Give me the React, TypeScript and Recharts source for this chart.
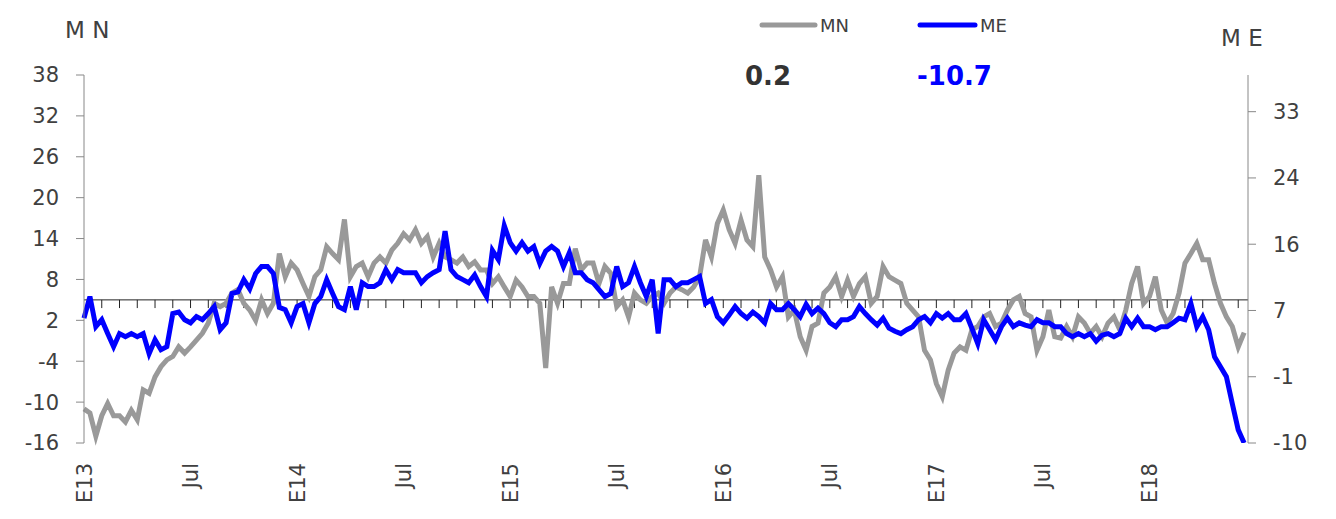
import { LineChart, Line, XAxis, YAxis, ReferenceLine } from "recharts";

// monthly step of 1/3 (roughly every 10 days), starting January 2013
const STEP = 1 / 3;

const mn2013 = [
  -11.0, -11.6, -15.0, -12.0, -10.2, -12.0, -12.0, -12.9, -11.2, -12.6, -8.2, -8.7,
  -6.3, -4.8, -3.8, -3.3, -1.9, -2.8, -1.9, -0.9, 0.1, 1.6, 4.5, 4.0,
  4.5, 6.0, 6.5, 4.5, 3.5, 2.0, 5.0, 3.0, 4.5, 11.8, 8.4, 10.4,
];
const mn2014 = [
  9.4, 7.4, 5.5, 8.4, 9.4, 12.8, 11.8, 10.9, 16.8, 8.4, 9.9, 10.4,
  8.4, 10.4, 11.3, 10.4, 12.3, 13.3, 14.7, 13.8, 15.3, 13.3, 14.3, 11.3,
  13.3, 11.3, 10.9, 10.4, 11.3, 9.9, 10.6, 9.4, 9.4, 7.4, 8.4, 6.9,
];
const mn2015 = [
  5.5, 7.9, 6.9, 5.5, 5.5, 4.5, -5.0, 6.9, 4.5, 7.4, 7.4, 12.5,
  9.4, 10.4, 10.4, 7.4, 9.9, 8.9, 4.0, 5.0, 2.5, 6.0, 5.0, 4.5,
  5.5, 6.0, 4.5, 6.0, 6.9, 6.5, 6.0, 6.9, 8.4, 13.8, 11.3, 16.2,
];
const mn2016 = [
  18.2, 15.3, 13.3, 16.7, 13.8, 12.8, 23.3, 11.3, 9.4, 6.9, 8.4, 2.5,
  3.5, -0.4, -2.4, 1.1, 1.6, 6.0, 6.9, 8.4, 5.5, 7.9, 5.5, 7.4,
  8.4, 4.5, 5.5, 9.9, 8.4, 7.9, 7.4, 4.5, 3.5, 2.5, -2.4, -3.8,
];
const mn2017 = [
  -7.3, -9.2, -5.3, -2.8, -1.9, -2.4, 0.6, 1.1, 2.5, 3.0, 1.1, 1.6,
  3.5, 5.0, 5.5, 3.0, 2.5, -2.4, -0.4, 3.5, -0.4, -0.6, 1.1, -0.4,
  2.5, 1.6, 0.1, 1.1, -0.4, 1.6, 2.5, 0.6, 3.5, 7.4, 9.9, 4.5,
];
const mn2018 = [
  5.5, 8.4, 3.5, 1.6, 3.0, 6.0, 10.4, 11.8, 13.3, 10.9, 10.9, 7.4,
  4.5, 2.5, 1.1, -1.9, 0.2,
];

const me2013 = [
  6.2, 9.0, 5.1, 6.0, 4.2, 2.5, 4.2, 3.8, 4.2, 3.8, 4.2, 1.6,
  3.4, 2.1, 2.5, 6.8, 7.0, 6.0, 5.6, 6.4, 6.0, 6.8, 7.7, 4.7,
  5.6, 9.4, 9.6, 11.2, 10.0, 12.0, 12.9, 12.9, 12.0, 7.6, 7.3, 5.6,
];
const me2014 = [
  7.7, 8.1, 5.6, 8.1, 9.0, 11.2, 9.4, 7.7, 7.3, 10.3, 7.3, 10.8,
  10.3, 10.3, 10.8, 12.5, 11.2, 12.5, 12.1, 12.1, 12.1, 10.8, 11.6, 12.1,
  12.5, 17.5, 12.5, 11.6, 11.2, 10.8, 11.8, 10.3, 9.0, 15.0, 13.8, 18.2,
];
const me2015 = [
  16.0, 14.9, 16.0, 14.9, 15.5, 13.3, 14.9, 15.5, 14.9, 12.9, 14.7, 12.1,
  12.1, 11.2, 10.8, 9.9, 9.0, 9.4, 12.9, 10.3, 10.8, 12.9, 10.8, 9.0,
  11.2, 4.2, 11.2, 11.2, 10.3, 10.8, 10.8, 11.2, 11.6, 8.1, 8.6, 6.4,
];
const me2016 = [
  5.6, 6.6, 7.7, 6.8, 6.2, 7.0, 6.4, 5.6, 8.1, 7.3, 7.3, 8.1,
  7.3, 6.4, 8.0, 6.8, 7.5, 6.8, 5.6, 5.1, 6.0, 6.0, 6.4, 7.7,
  6.8, 6.0, 5.3, 6.2, 4.9, 4.5, 4.2, 4.7, 5.1, 6.0, 6.4, 5.6,
];
const me2017 = [
  6.8, 6.2, 6.8, 6.0, 6.0, 6.8, 4.9, 2.9, 6.0, 4.7, 3.4, 5.1,
  6.2, 5.1, 5.6, 5.3, 5.1, 6.0, 5.6, 5.6, 5.1, 5.1, 4.2, 3.8,
  4.2, 3.8, 4.2, 3.2, 4.0, 4.2, 3.8, 4.2, 6.2, 5.1, 6.2, 5.1,
];
const me2018 = [
  5.1, 4.7, 5.1, 5.1, 5.6, 6.2, 6.0, 8.1, 5.1, 6.4, 4.7, 1.2,
  -0.1, -1.4, -4.9, -8.3, -10.0,
];

const mnValues = [...mn2013, ...mn2014, ...mn2015, ...mn2016, ...mn2017, ...mn2018];
const meValues = [...me2013, ...me2014, ...me2015, ...me2016, ...me2017, ...me2018];

const xTicks = [0, 6, 12, 18, 24, 30, 36, 42, 48, 54, 60];
const xLabels = ["E13", "Jul", "E14", "Jul", "E15", "Jul", "E16", "Jul", "E17", "Jul", "E18"];
const leftTicks = [-16, -10, -4, 2, 8, 14, 20, 26, 32, 38];
const rightTicks = [-10, -1.4, 7.2, 15.8, 24.4, 33];
const monthMarks = Array.from({ length: 65 }, (_, i) => i + 1);

const lastMN = "0.2";
const lastME = "-10.7";

const data = mnValues.map((v, i) => ({ m: i * STEP, mn: v, me: meValues[i] }));

const FONT = "'DejaVu Sans', Verdana, sans-serif";
const TEXT = "#404040";

const XTick = (props: any) => {
  const { x, y, payload } = props;
  const idx = xTicks.indexOf(payload.value);
  const ty = y + 12;
  return (
    <text
      x={x}
      y={ty}
      dy="0.36em"
      transform={`rotate(-90 ${x} ${ty})`}
      textAnchor="end"
      fill={TEXT}
      fontSize={21}
      fontFamily={FONT}
    >
      {xLabels[idx]}
    </text>
  );
};

export default function App() {
  return (
    <div style={{ position: "relative", width: 1320, height: 511, fontFamily: FONT }}>
      <LineChart
        width={1320}
        height={511}
        data={data}
        margin={{ top: 67, right: 10, bottom: 10, left: 16 }}
      >
        <XAxis
          dataKey="m"
          type="number"
          domain={[0, 65.55]}
          ticks={xTicks}
          axisLine={false}
          tickLine={false}
          height={66}
          tick={<XTick />}
          interval={0}
        />
        <YAxis
          yAxisId="left"
          domain={[-16, 38]}
          ticks={leftTicks}
          width={60}
          axisLine={{ stroke: "#888" }}
          tickLine={{ stroke: "#888" }}
          tickSize={8}
          tickMargin={17}
          tick={{ fill: TEXT, fontSize: 21, fontFamily: FONT }}
          interval={0}
        />
        <YAxis
          yAxisId="right"
          orientation="right"
          domain={[-10, 37.76]}
          allowDataOverflow
          ticks={rightTicks}
          tickFormatter={(v) => `${Math.round(v)}`}
          width={70}
          axisLine={{ stroke: "#888" }}
          tickLine={{ stroke: "#888" }}
          tickSize={8}
          tickMargin={17}
          tick={{ fill: TEXT, fontSize: 21, fontFamily: FONT, textAnchor: "start" }}
          interval={0}
        />
        <ReferenceLine yAxisId="left" y={5} stroke="#222" strokeWidth={1} />
        {monthMarks.map((mo) => (
          <ReferenceLine
            key={mo}
            yAxisId="left"
            segment={[
              { x: mo, y: 5 },
              { x: mo, y: 3.8 },
            ]}
            stroke="#222"
            strokeWidth={1}
          />
        ))}
        <Line
          yAxisId="left"
          dataKey="mn"
          type="linear"
          stroke="#999999"
          strokeWidth={5}
          dot={false}
          isAnimationActive={false}
        />
        <Line
          yAxisId="right"
          dataKey="me"
          type="linear"
          stroke="#0000ff"
          strokeWidth={5}
          dot={false}
          isAnimationActive={false}
        />
      </LineChart>
      <svg
        width={1320}
        height={511}
        style={{ position: "absolute", left: 0, top: 0, pointerEvents: "none" }}
      >
        <text x={57} y={30} fontSize={23} fill={TEXT} fontFamily={FONT}>
          M N
        </text>
        <text x={1213} y={38} fontSize={23} fill={TEXT} fontFamily={FONT}>
          M E
        </text>
        <line x1={754} y1={17} x2={807} y2={17} stroke="#999999" strokeWidth={5} strokeLinecap="round" />
        <text x={812} y={24} fontSize={18} fill={TEXT} fontFamily={FONT}>
          MN
        </text>
        <line x1={912} y1={17} x2={967} y2={17} stroke="#0000ff" strokeWidth={5} strokeLinecap="round" />
        <text x={972} y={24} fontSize={18} fill={TEXT} fontFamily={FONT}>
          ME
        </text>
        <text x={737} y={77} fontSize={26} fontWeight="bold" fill="#333" fontFamily={FONT}>
          {lastMN}
        </text>
        <text x={909} y={77} fontSize={26} fontWeight="bold" fill="#0000ff" fontFamily={FONT}>
          {lastME}
        </text>
      </svg>
    </div>
  );
}
